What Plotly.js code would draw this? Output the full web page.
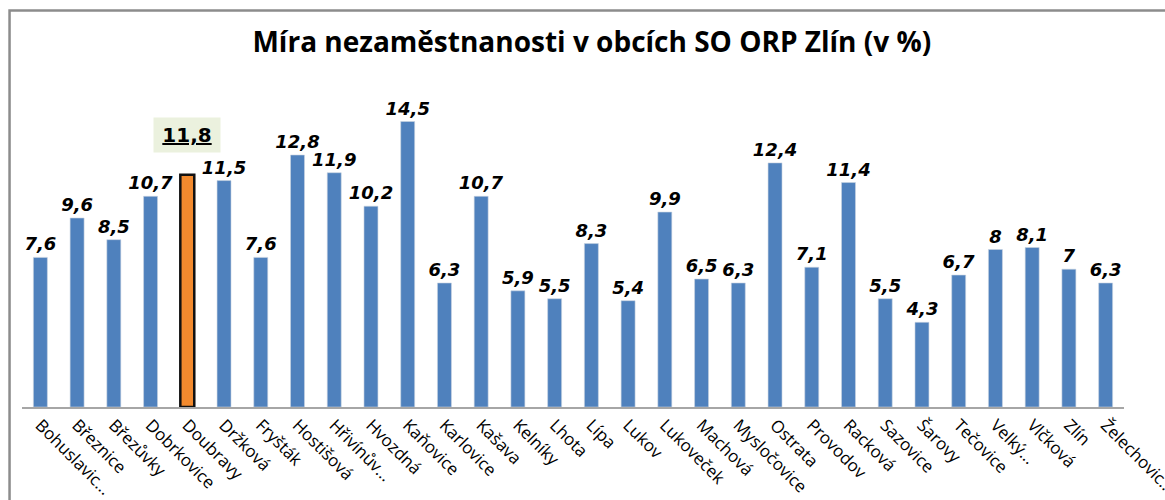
<!DOCTYPE html>
<html>
<head>
<meta charset="utf-8">
<script src="https://cdn.plot.ly/plotly-3.0.1.min.js"></script>
<style>html,body{margin:0;padding:0;background:#fff;}#chart{width:1165px;height:500px;}</style>
</head>
<body>
<div id="chart"></div>
<script>
const categories = ["Bohuslavic...","Březnice","Březůvky","Dobrkovice","Doubravy","Držková","Fryšták","Hostišová","Hřivínův...","Hvozdná","Kaňovice","Karlovice","Kašava","Kelníky","Lhota","Lípa","Lukov","Lukoveček","Machová","Mysločovice","Ostrata","Provodov","Racková","Sazovice","Šarovy","Tečovice","Velký...","Vlčková","Zlín","Želechovic..."];
const values = [7.6,9.6,8.5,10.7,11.8,11.5,7.6,12.8,11.9,10.2,14.5,6.3,10.7,5.9,5.5,8.3,5.4,9.9,6.5,6.3,12.4,7.1,11.4,5.5,4.3,6.7,8,8.1,7,6.3];
const highlight = "Doubravy";
const titleText = "Míra nezaměstnanosti v obcích SO ORP Zlín (v %)";

const hi = categories.indexOf(highlight);
const fmt = v => String(v).replace('.', ',');
const labels = values.map((v,i) => i === hi ? '' : fmt(v));
const colors = values.map((v,i) => i === hi ? '#f28a2e' : '#4f81bd');
const lineW = values.map((v,i) => i === hi ? 2.5 : 0.6);
const lineC = values.map((v,i) => i === hi ? '#111111' : '#c9d3e0');

const trace = {
  type: 'bar',
  x: categories,
  y: values,
  text: labels,
  textposition: 'outside',
  constraintext: 'none',
  cliponaxis: false,
  textfont: {family: 'DejaVu Sans', size: 18, color: '#000', weight: 'bold', style: 'italic'},
  marker: {color: colors, line: {color: lineC, width: lineW}},
  width: 0.38,
  hoverinfo: 'x+y'
};

const layout = {
  width: 1165, height: 500,
  margin: {l: 22, r: 41, t: 92, b: 93},
  paper_bgcolor: '#fff', plot_bgcolor: '#fff',
  showlegend: false,
  title: {text: titleText, x: 0.508, xanchor: 'center', y: 0.915, yanchor: 'middle',
          font: {family: 'Open Sans', size: 28, color: '#000', weight: 'bold'}},
  xaxis: {type: 'category', tickangle: 45, showline: true, linecolor: '#a6a6a6', linewidth: 1.5,
          ticks: '', showgrid: false, zeroline: false,
          tickfont: {family: 'Open Sans', size: 17, color: '#000'}},
  yaxis: {range: [0, 16], visible: false, showgrid: false, zeroline: false},
  annotations: [{
    x: highlight, y: values[hi], xref: 'x', yref: 'y',
    text: '<u>' + fmt(values[hi]) + '</u>',
    showarrow: false, yanchor: 'middle', yshift: 40,
    font: {family: 'DejaVu Sans', size: 20, color: '#000', weight: 'bold'},
    bgcolor: '#ebf1de', width: 66, height: 34, borderpad: 0
  }],
  shapes: [{
    type: 'rect', xref: 'paper', yref: 'paper',
    x0: -0.0113, x1: 1.2, y0: -0.6, y1: 1.2587,
    line: {color: '#8c8c8c', width: 2.5}, fillcolor: 'rgba(0,0,0,0)', layer: 'below'
  }]
};

Plotly.newPlot('chart', [trace], layout, {displayModeBar: false, staticPlot: true});
</script>
</body>
</html>
